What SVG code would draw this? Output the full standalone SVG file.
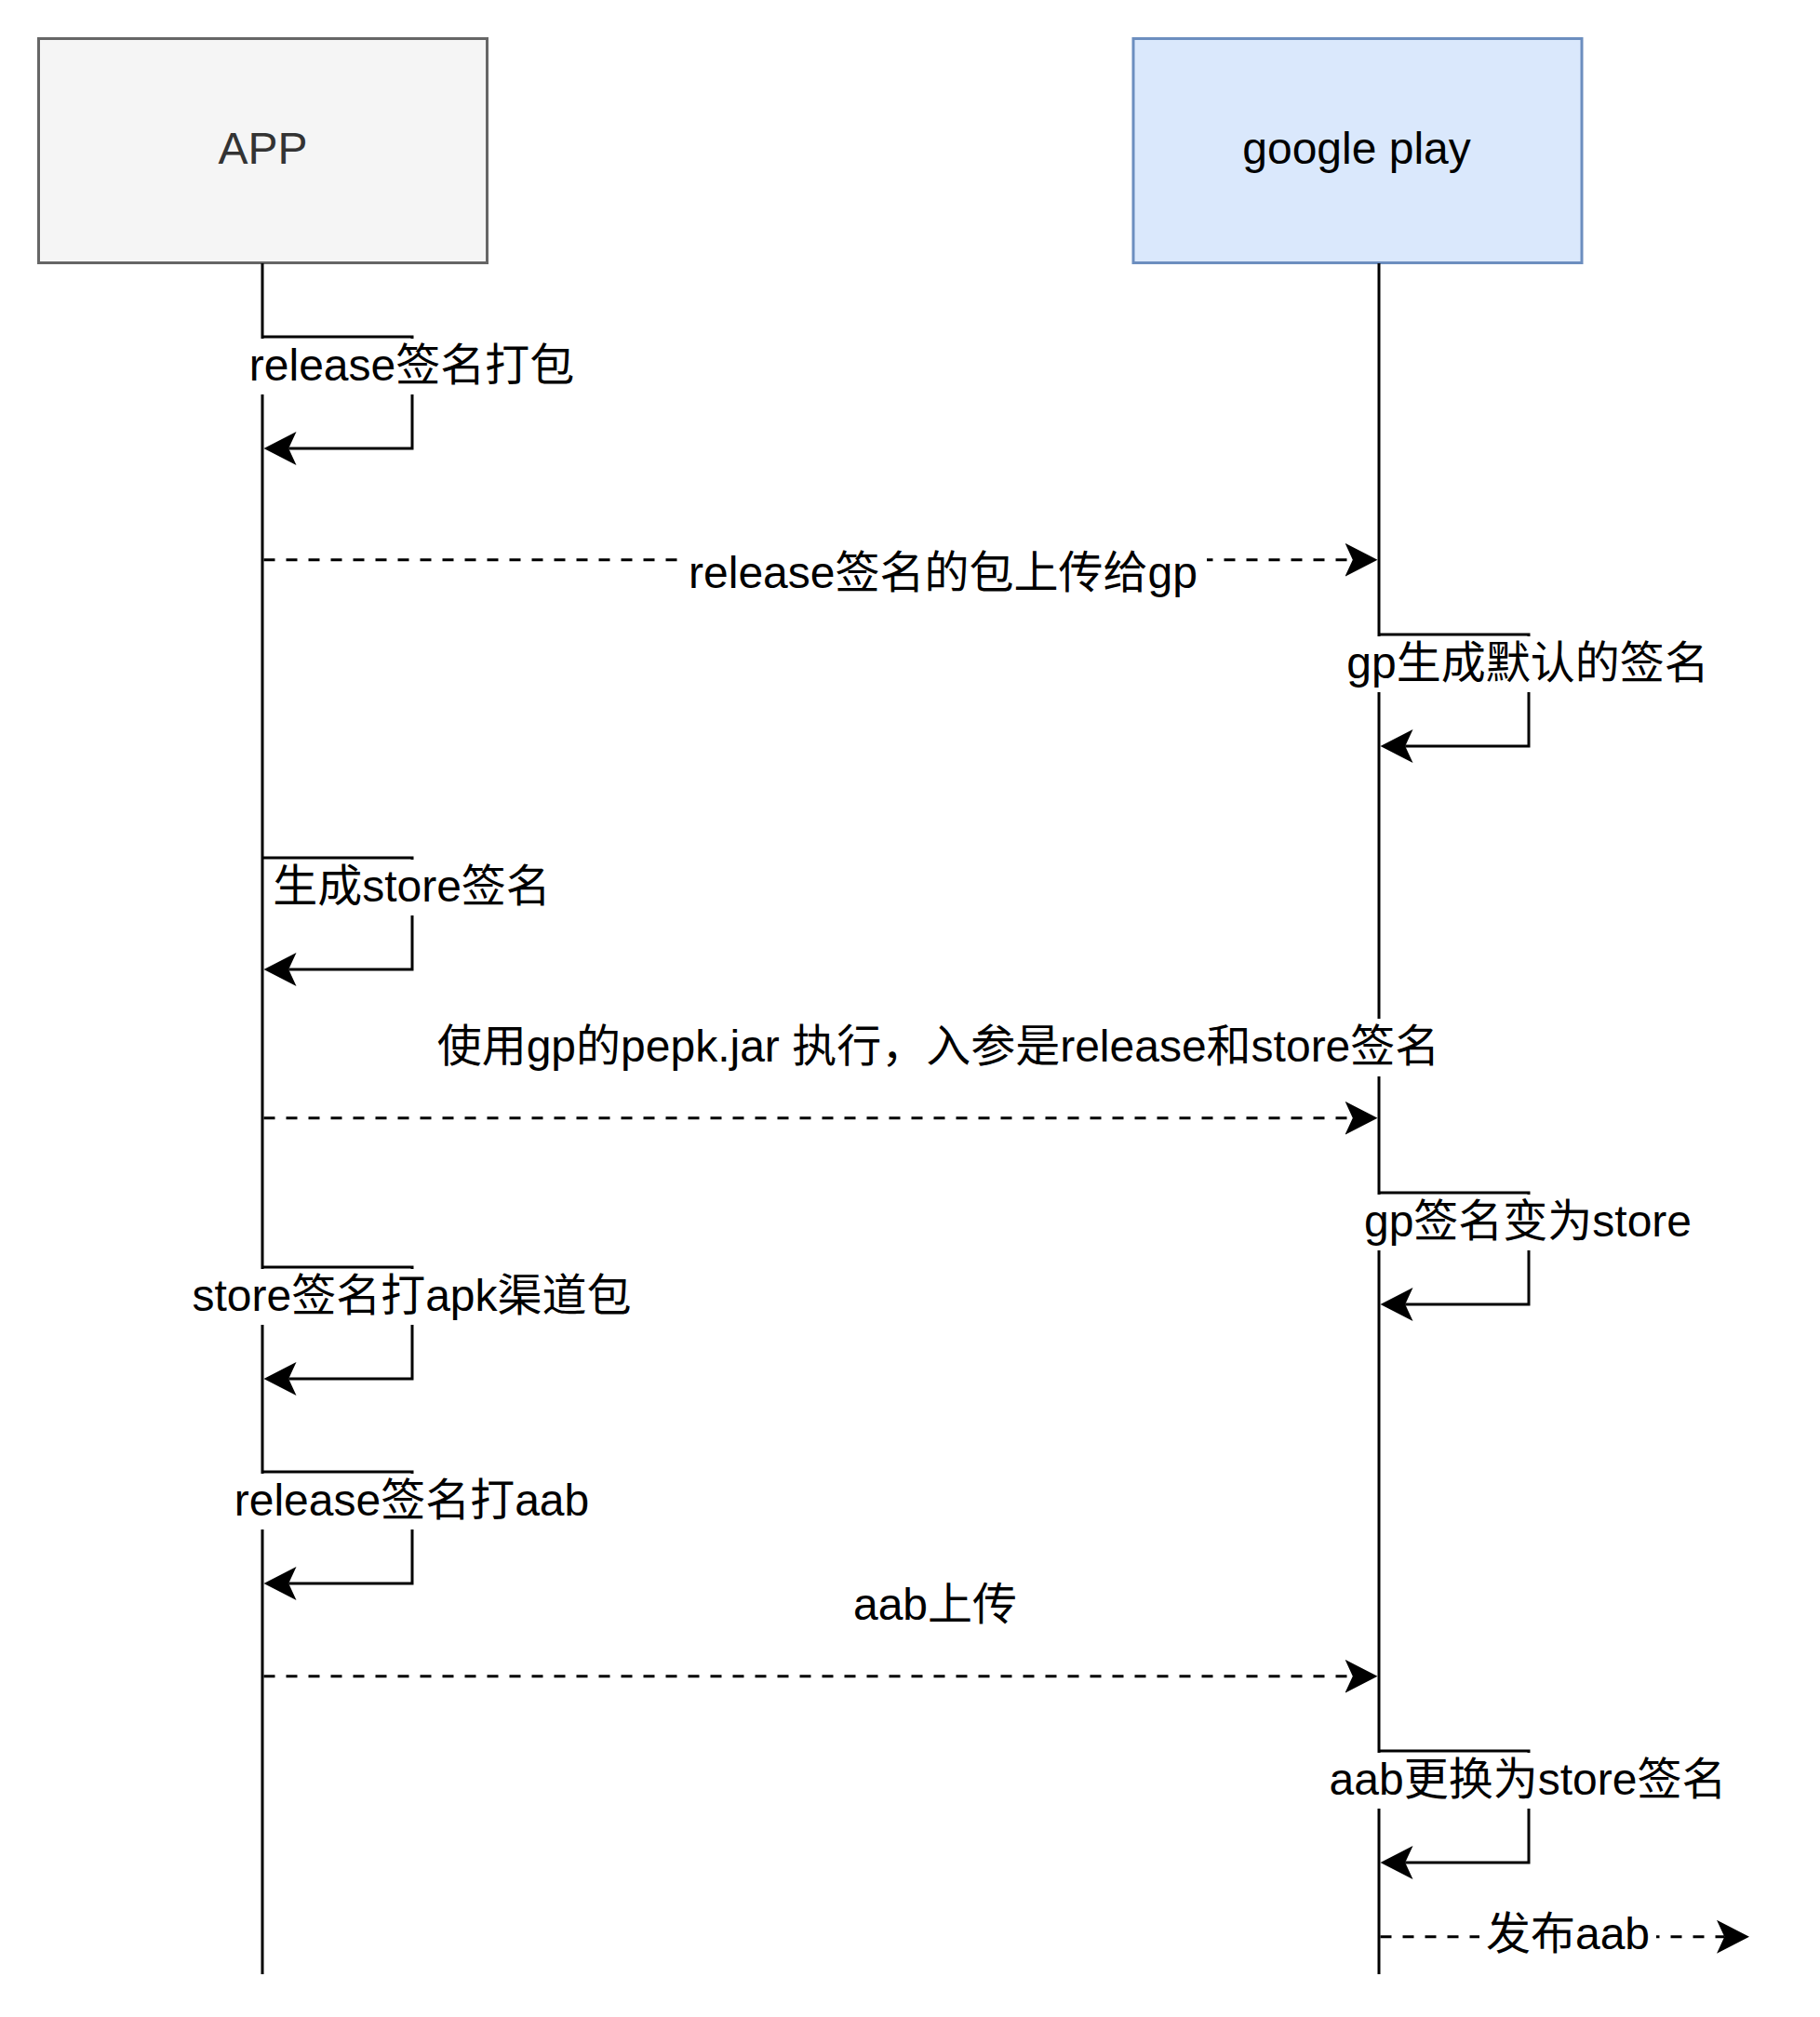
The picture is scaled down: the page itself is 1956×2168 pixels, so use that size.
<svg xmlns="http://www.w3.org/2000/svg" width="1956" height="2168" viewBox="0 0 1956 2168">
<style>
  .t { font-family: "Liberation Sans", Arial, Helvetica, "Noto Sans CJK SC", sans-serif; font-size: 48px; fill: #000; text-anchor: middle; }
  .ln { fill: none; stroke: #000; stroke-width: 3; stroke-linejoin: miter; stroke-linecap: butt; }
  .dash { stroke-dasharray: 12 12; }
  .bg { fill: #ffffff; stroke: none; }
</style>
<defs>
  <marker id="arr" markerUnits="userSpaceOnUse" viewBox="0 -19 36 38" markerWidth="36" markerHeight="38" refX="8.3" refY="0" orient="auto">
    <path d="M35,0 L0,-18 L8.3,0 L0,18 Z" fill="#000" stroke="none"/>
  </marker>
</defs>
<rect width="1956" height="2168" fill="#ffffff"/>

<g id="app">
  <rect x="41.5" y="41.5" width="482" height="241" fill="#f5f5f5" stroke="#666666" stroke-width="3"/>
  <text class="t" x="282.5" y="176" style="fill:#333333">APP</text>
  <line class="ln" x1="282" y1="283" x2="282" y2="2122"/>
</g>

<g id="googleplay">
  <rect x="1218" y="41.5" width="482" height="241" fill="#dae8fc" stroke="#6c8ebf" stroke-width="3"/>
  <text class="t" x="1458" y="176">google play</text>
  <line class="ln" x1="1482" y1="283" x2="1482" y2="2122"/>
</g>

<g id="connectors">
  <!-- self messages on APP -->
  <path class="ln" d="M282,362 H443 V482 H310.2" marker-end="url(#arr)"/>
  <path class="ln" d="M282,922 H443 V1042 H310.2" marker-end="url(#arr)"/>
  <path class="ln" d="M282,1362 H443 V1482 H310.2" marker-end="url(#arr)"/>
  <path class="ln" d="M282,1582 H443 V1702 H310.2" marker-end="url(#arr)"/>
  <!-- self messages on google play -->
  <path class="ln" d="M1482,682 H1643 V802 H1510.2" marker-end="url(#arr)"/>
  <path class="ln" d="M1482,1282 H1643 V1402 H1510.2" marker-end="url(#arr)"/>
  <path class="ln" d="M1482,1882 H1643 V2002 H1510.2" marker-end="url(#arr)"/>
  <!-- dashed messages APP -> google play -->
  <path class="ln dash" d="M283.5,601.7 H1453.8" marker-end="url(#arr)"/>
  <path class="ln dash" d="M283.5,1201.7 H1453.8" marker-end="url(#arr)"/>
  <path class="ln dash" d="M283.5,1801.7 H1453.8" marker-end="url(#arr)"/>
  <!-- publish -->
  <path class="ln dash" d="M1483.5,2081.7 H1853.3" marker-end="url(#arr)"/>

  <!-- labels -->
  <g id="lbl-release-pack">
    <rect class="bg" x="260" y="364" width="365" height="60"/>
    <text class="t" x="442.5" y="409">release签名打包</text>
  </g>
  <g id="lbl-upload-release">
    <rect class="bg" x="728" y="586" width="569" height="62"/>
    <text class="t" x="1013.5" y="631.7">release签名的包上传给gp</text>
  </g>
  <g id="lbl-gp-default">
    <rect class="bg" x="1440" y="684" width="404" height="60"/>
    <text class="t" x="1642" y="729">gp生成默认的签名</text>
  </g>
  <g id="lbl-gen-store">
    <rect class="bg" x="286" y="924" width="313" height="60"/>
    <text class="t" x="442.5" y="969">生成store签名</text>
  </g>
  <g id="lbl-pepk">
    <rect class="bg" x="462" y="1095" width="1093" height="62"/>
    <text class="t" x="1008.5" y="1141">使用gp的pepk.jar 执行，入参是release和store签名</text>
  </g>
  <g id="lbl-gp-store">
    <rect class="bg" x="1458" y="1284" width="368" height="60"/>
    <text class="t" x="1642" y="1329">gp签名变为store</text>
  </g>
  <g id="lbl-apk">
    <rect class="bg" x="199" y="1364" width="487" height="60"/>
    <text class="t" x="442.5" y="1409">store签名打apk渠道包</text>
  </g>
  <g id="lbl-aab">
    <rect class="bg" x="244" y="1584" width="397" height="60"/>
    <text class="t" x="442.5" y="1629">release签名打aab</text>
  </g>
  <g id="lbl-aab-upload">
    <rect class="bg" x="909" y="1695" width="192" height="62"/>
    <text class="t" x="1005" y="1741">aab上传</text>
  </g>
  <g id="lbl-aab-store">
    <rect class="bg" x="1421" y="1884" width="442" height="60"/>
    <text class="t" x="1642" y="1929">aab更换为store签名</text>
  </g>
  <g id="lbl-publish">
    <rect class="bg" x="1590" y="2049" width="190" height="62"/>
    <text class="t" x="1685" y="2095">发布aab</text>
  </g>
</g>
</svg>
